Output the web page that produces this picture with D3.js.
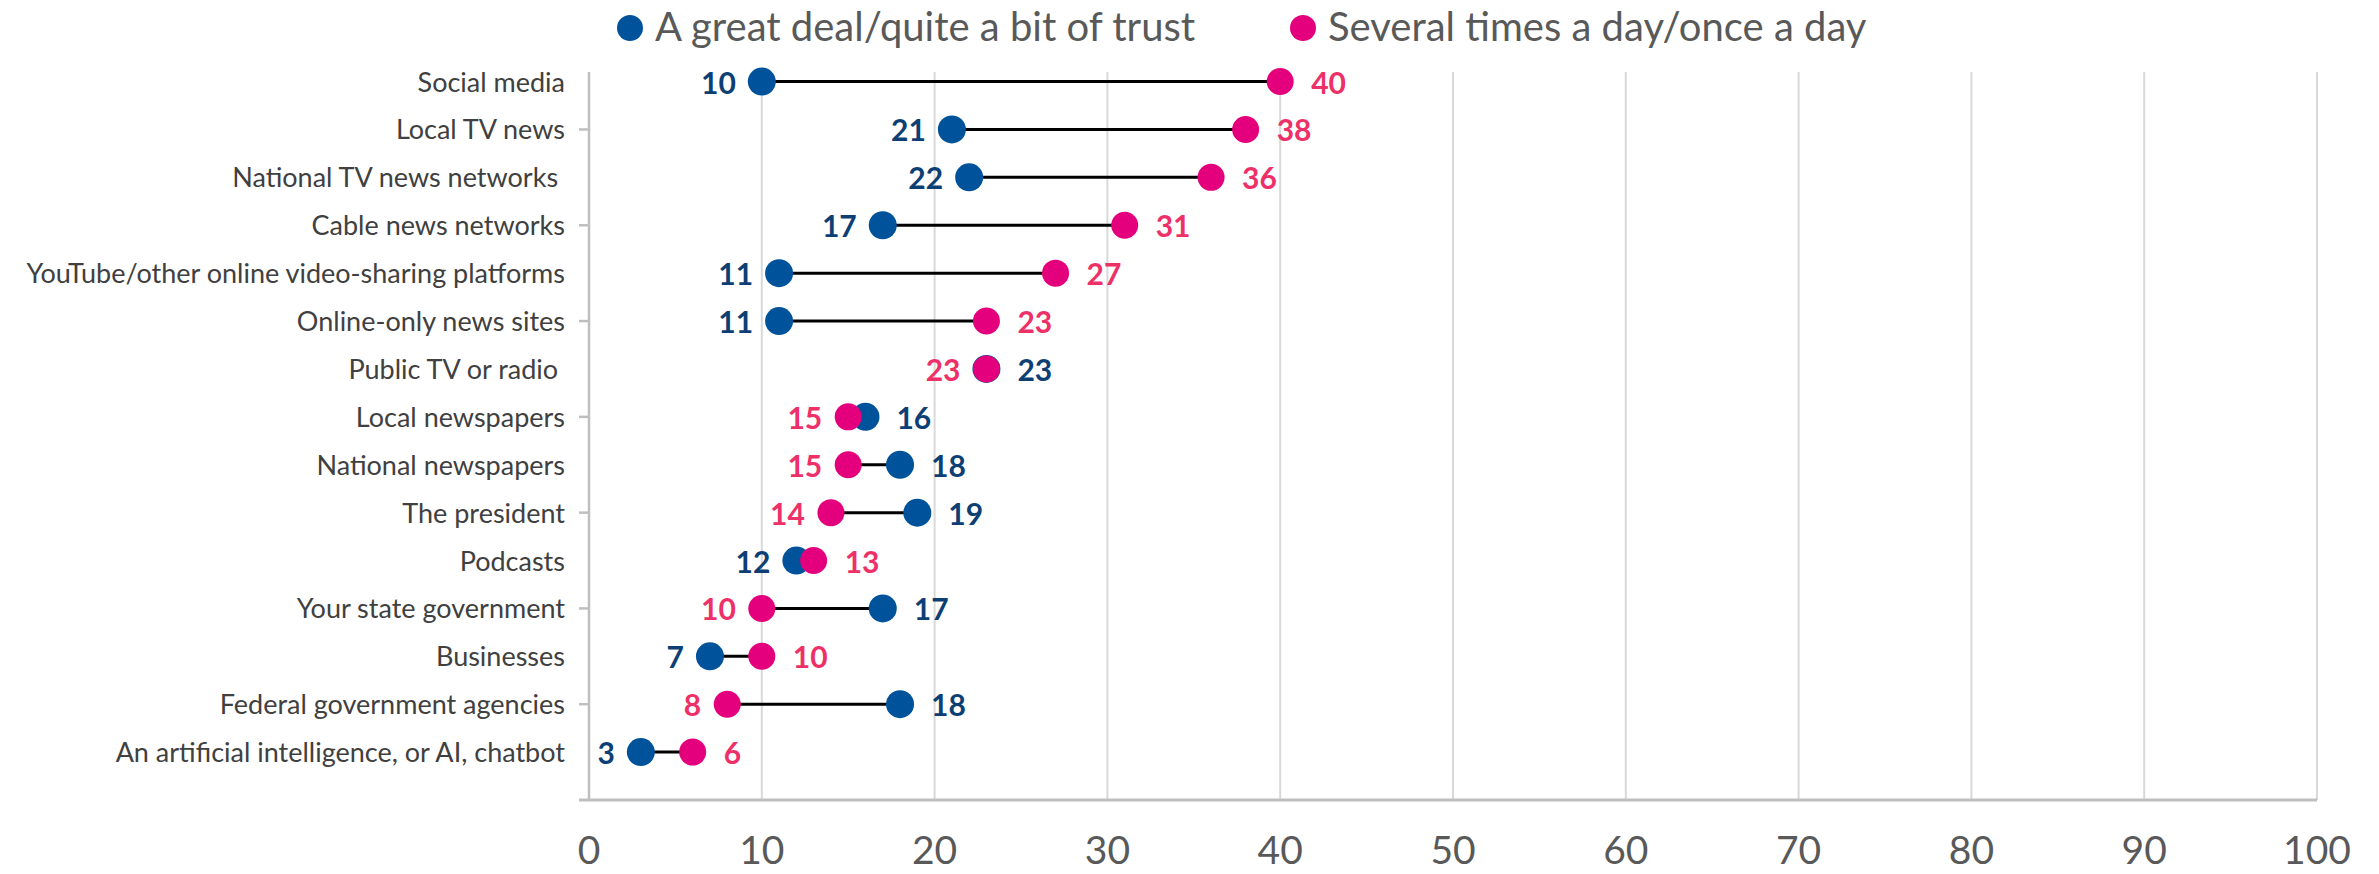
<!DOCTYPE html>
<html>
<head>
<meta charset="utf-8">
<script src="https://cdn.jsdelivr.net/npm/d3@7"></script>
<style>
  body { margin: 0; background: #fff; }
  text { font-family: "Source Sans Pro", Lato, "Open Sans", sans-serif; }
</style>
</head>
<body>
<script>
const measurements = {
    width: 2379,
    height: 874
}

// categories, top to bottom
const categories = [
    "Social media",
    "Local TV news",
    "National TV news networks ",
    "Cable news networks",
    "YouTube/other online video-sharing platforms",
    "Online-only news sites",
    "Public TV or radio ",
    "Local newspapers",
    "National newspapers",
    "The president",
    "Podcasts",
    "Your state government",
    "Businesses",
    "Federal government agencies",
    "An artificial intelligence, or AI, chatbot"
]

// a great deal/quite a bit of trust
const trustValues = [10, 21, 22, 17, 11, 11, 23, 16, 18, 19, 12, 17, 7, 18, 3]
// several times a day/once a day
const dailyValues = [40, 38, 36, 31, 27, 23, 23, 15, 15, 14, 13, 10, 10, 8, 6]

const xTicks = [0, 10, 20, 30, 40, 50, 60, 70, 80, 90, 100]
const seriesNames = ["A great deal/quite a bit of trust", "Several times a day/once a day"]

const blue = "#00529b"
const pink = "#e4007c"
const blueLabel = "#0d3f74"
const pinkLabel = "#ee3068"

const svg = d3.select("body").append("svg")
    .attr("width", measurements.width)
    .attr("height", measurements.height)

// x scale 0..100, y scale like excel: row i sits at value 15 - i
const x = d3.scaleLinear().domain([0, 100]).range([589, 2317])
const y = d3.scaleLinear().domain([0, 15.2]).range([800, 72])
const rowY = i => y(15 - i)

// gridlines
svg.append("g")
    .selectAll("line")
    .data(xTicks.slice(1))
    .enter()
    .append("line")
    .attr("x1", d => x(d)).attr("x2", d => x(d))
    .attr("y1", y(15.2)).attr("y2", y(0))
    .attr("stroke", "#d9d9d9")
    .attr("stroke-width", 2)

// y axis line + ticks every 2 units
svg.append("line")
    .attr("x1", x(0)).attr("x2", x(0))
    .attr("y1", y(15.2)).attr("y2", y(0))
    .attr("stroke", "#bfbfbf")
    .attr("stroke-width", 2.5)

svg.append("g")
    .selectAll("line")
    .data(d3.range(2, 15, 2))
    .enter()
    .append("line")
    .attr("x1", x(0) - 10).attr("x2", x(0))
    .attr("y1", d => y(d)).attr("y2", d => y(d))
    .attr("stroke", "#bfbfbf")
    .attr("stroke-width", 2.5)

// x axis line
svg.append("line")
    .attr("x1", x(0) - 10).attr("x2", x(100))
    .attr("y1", y(0)).attr("y2", y(0))
    .attr("stroke", "#bfbfbf")
    .attr("stroke-width", 3)

// x tick labels
svg.append("g")
    .selectAll("text")
    .data(xTicks)
    .enter()
    .append("text")
    .attr("x", d => x(d))
    .attr("y", 864)
    .attr("text-anchor", "middle")
    .attr("font-size", 39)
    .attr("fill", "#595959")
    .text(d => d)

// category labels
svg.append("g")
    .selectAll("text")
    .data(categories)
    .enter()
    .append("text")
    .attr("x", 565)
    .attr("y", (d, i) => rowY(i) + 10)
    .attr("text-anchor", "end")
    .attr("font-size", 27)
    .attr("fill", "#404040")
    .style("white-space", "pre")
    .text(d => d)

const rows = categories.map((c, i) => ({ i: i, trust: trustValues[i], daily: dailyValues[i] }))

// connectors
svg.append("g")
    .selectAll("line")
    .data(rows)
    .enter()
    .append("line")
    .attr("x1", d => x(d.trust)).attr("x2", d => x(d.daily))
    .attr("y1", d => rowY(d.i)).attr("y2", d => rowY(d.i))
    .attr("stroke", "#000")
    .attr("stroke-width", 3)

// dots: blue first, pink on top
svg.append("g")
    .selectAll("circle")
    .data(rows)
    .enter()
    .append("circle")
    .attr("cx", d => x(d.trust))
    .attr("cy", d => rowY(d.i))
    .attr("r", 14)
    .attr("fill", blue)

svg.append("g")
    .selectAll("circle")
    .data(rows)
    .enter()
    .append("circle")
    .attr("cx", d => x(d.daily))
    .attr("cy", d => rowY(d.i))
    .attr("r", 13.5)
    .attr("fill", pink)

// value labels: the smaller value goes left, the bigger right (ties: pink left)
const labels = []
rows.forEach(d => {
    const blueLeft = d.trust < d.daily
    labels.push({ i: d.i, v: d.trust, left: blueLeft, color: blueLabel })
    labels.push({ i: d.i, v: d.daily, left: !blueLeft, color: pinkLabel })
})

svg.append("g")
    .selectAll("text")
    .data(labels)
    .enter()
    .append("text")
    .attr("x", d => d.left ? x(d.v) - 26 : x(d.v) + 31)
    .attr("y", d => rowY(d.i) + 12)
    .attr("text-anchor", d => d.left ? "end" : "start")
    .attr("font-size", 30)
    .attr("font-weight", "bold")
    .attr("fill", d => d.color)
    .text(d => d.v)

// legend
const legendX = [630, 1303]
const legend = svg.append("g")
legend.selectAll("circle")
    .data(seriesNames)
    .enter()
    .append("circle")
    .attr("cx", (d, i) => legendX[i])
    .attr("cy", 28)
    .attr("r", 13)
    .attr("fill", (d, i) => i === 0 ? blue : pink)

legend.selectAll("text")
    .data(seriesNames)
    .enter()
    .append("text")
    .attr("x", (d, i) => legendX[i] + 25)
    .attr("y", 41)
    .attr("font-size", 40)
    .attr("fill", "#595959")
    .text(d => d)
</script>
</body>
</html>
